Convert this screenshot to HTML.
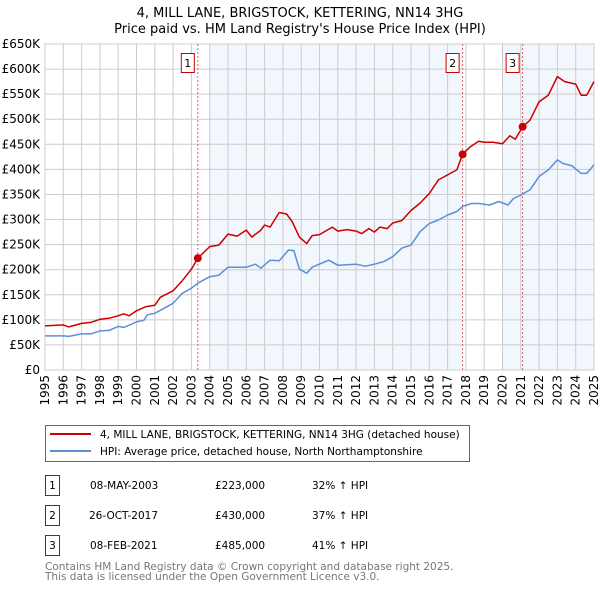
<!DOCTYPE html>
<html><head><meta charset="utf-8"><style>
body{margin:0;background:#fff;width:600px;height:590px;overflow:hidden;font-family:"DejaVu Sans","Liberation Sans",sans-serif}
svg text{font-family:"DejaVu Sans","Liberation Sans",sans-serif}
</style></head><body>
<svg id="chart" width="600" height="590" viewBox="0 0 600 590" xmlns="http://www.w3.org/2000/svg">
<text x="300" y="17" font-size="13" text-anchor="middle" fill="#000">4, MILL LANE, BRIGSTOCK, KETTERING, NN14 3HG</text>
<text x="300" y="33" font-size="13" text-anchor="middle" fill="#000">Price paid vs. HM Land Registry's House Price Index (HPI)</text>
<g id="plot"></g>
<g>
<rect x="45.5" y="425.5" width="424" height="36" fill="#fff" stroke="#666"/>
<line x1="50" y1="434" x2="91" y2="434" stroke="#cc0000" stroke-width="2"/>
<text x="100" y="438" font-size="10.5">4, MILL LANE, BRIGSTOCK, KETTERING, NN14 3HG (detached house)</text>
<line x1="50" y1="451" x2="91" y2="451" stroke="#5b8fd6" stroke-width="2"/>
<text x="100" y="455" font-size="10.5">HPI: Average price, detached house, North Northamptonshire</text>
</g>
<g font-size="10.5">
<rect x="45.5" y="475.5" width="14" height="20" fill="#fff" stroke="#cc0000"/><text x="52.5" y="489" text-anchor="middle">1</text>
<text x="90" y="489">08-MAY-2003</text><text x="215" y="489">£223,000</text><text x="312" y="489">32% ↑ HPI</text>
<rect x="45.5" y="505.5" width="14" height="20" fill="#fff" stroke="#cc0000"/><text x="52.5" y="519" text-anchor="middle">2</text>
<text x="89" y="519">26-OCT-2017</text><text x="215" y="519">£430,000</text><text x="312" y="519">37% ↑ HPI</text>
<rect x="45.5" y="535.5" width="14" height="20" fill="#fff" stroke="#cc0000"/><text x="52.5" y="549" text-anchor="middle">3</text>
<text x="90" y="549">08-FEB-2021</text><text x="215" y="549">£485,000</text><text x="312" y="549">41% ↑ HPI</text>
</g>
<text x="45" y="570" font-size="10.5" fill="#777">Contains HM Land Registry data © Crown copyright and database right 2025.</text>
<text x="45" y="580" font-size="10.5" fill="#777">This data is licensed under the Open Government Licence v3.0.</text>
</svg>
<script>
const hpiYears=[1995,1996,1996.3,1997,1997.5,1998,1998.5,1999,1999.3,1999.7,2000,2000.4,2000.6,2001,2001.5,2002,2002.5,2003,2003.35,2004,2004.5,2005,2006,2006.5,2006.8,2007.3,2007.8,2008,2008.3,2008.6,2008.9,2009.3,2009.6,2010.5,2011,2012,2012.5,2013,2013.5,2014,2014.5,2015,2015.5,2016,2016.5,2017,2017.5,2017.82,2018.3,2018.7,2019.3,2019.8,2020.3,2020.6,2021,2021.5,2022,2022.5,2023,2023.3,2023.8,2024.3,2024.6,2025];
const hpiValues=[68,68,67,72,72,78,79,87,85,91,96,99,110,113,123,133,153,163,173,186,189,205,205,211,203,219,218,226,239,238,201,193,205,219,209,211,207,211,216,226,243,249,276,292,299,309,316,326,332,332,329,336,329,342,349,359,386,399,419,412,407,392,392,409];
const priceYears=[1995,1996,1996.3,1997,1997.5,1998,1998.5,1999,1999.3,1999.6,2000,2000.5,2001,2001.3,2002,2002.5,2003,2003.35,2004,2004.5,2005,2005.5,2006,2006.3,2006.8,2007,2007.3,2007.8,2008.2,2008.5,2008.9,2009.3,2009.6,2010,2010.7,2011,2011.5,2012,2012.3,2012.7,2013,2013.3,2013.7,2014,2014.5,2015,2015.5,2016,2016.5,2017,2017.5,2017.82,2018.2,2018.7,2019,2019.5,2020,2020.4,2020.7,2021.1,2021.5,2022,2022.5,2023,2023.4,2024,2024.3,2024.6,2025];
const priceValues=[88,90,86,93,95,101,103,108,112,108,118,126,129,145,158,178,201,223,246,249,271,267,279,265,279,289,285,314,311,296,265,252,268,270,285,277,280,277,272,282,275,285,282,293,298,318,333,352,379,389,399,430,444,456,454,454,451,467,460,485,498,535,548,585,575,570,548,548,575];
const saleYears=[2003.35,2017.82,2021.1];
const saleValues=[223,430,485];
const saleLabels=["1","2","3"];
const yTicks=[0,50,100,150,200,250,300,350,400,450,500,550,600,650];
const xTicks=[1995,1996,1997,1998,1999,2000,2001,2002,2003,2004,2005,2006,2007,2008,2009,2010,2011,2012,2013,2014,2015,2016,2017,2018,2019,2020,2021,2022,2023,2024,2025];
const shadeRanges=[[2004,2017.82],[2020,2025]];

const X0=45,X1=594,Y0=370,Y1=44;
const xs=y=>X0+(y-1995)/30*(X1-X0);
const ys=v=>Y0-v/650*(Y0-Y1);
const NS="http://www.w3.org/2000/svg";
const g=document.getElementById('plot');
function mk(t,a){const e=document.createElementNS(NS,t);for(const k in a)e.setAttribute(k,a[k]);g.appendChild(e);return e;}
for(const r of shadeRanges){
 const e=mk('rect',{x:xs(r[0]),y:Y1,width:xs(r[1])-xs(r[0]),height:Y0-Y1,fill:'#eef3fc',opacity:0.75});
 
 
}
for(const v of yTicks){
 const l=mk('line',{x1:X0,x2:X1,y1:ys(v),y2:ys(v),stroke:'#cccccc','stroke-width':1});
 
 
 const t=mk('text',{x:40,y:ys(v)+4,'font-size':12,'text-anchor':'end',fill:'#000'});
 t.textContent=v===0?'£0':'£'+v+'K';
 
 
}
for(const y of xTicks){
 const l=mk('line',{x1:xs(y),x2:xs(y),y1:Y1,y2:Y0,stroke:'#cccccc','stroke-width':1});
 
 
 const t=mk('text',{x:0,y:0,'font-size':12,'text-anchor':'end',fill:'#000',transform:`translate(${xs(y)+4},${Y0+5}) rotate(-90)`});
 t.textContent=y;
 
 
}
const frame=mk('rect',{x:X0,y:Y1,width:X1-X0,height:Y0-Y1,fill:'none',stroke:'#cccccc'});


for(let i=0;i<saleYears.length;i++){
 const l=mk('line',{x1:xs(saleYears[i]),x2:xs(saleYears[i]),y1:Y1,y2:Y0,stroke:'#e06060','stroke-width':1,'stroke-dasharray':'2,2'});
 
 
 const b=mk('rect',{x:xs(saleYears[i])-16.5,y:53.5,width:13,height:19,fill:'#fff',stroke:'#cc0000'});
 
 
 const t=mk('text',{x:xs(saleYears[i])-10,y:67,'font-size':11,'text-anchor':'middle'});
 t.textContent=saleLabels[i];
 
 
}
function path(xa,va,c,n){
 const d=xa.map((x,i)=>(i?'L':'M')+xs(x).toFixed(1)+','+ys(va[i]).toFixed(1)).join('');
 const p=mk('path',{d,fill:'none',stroke:c,'stroke-width':1.5,'stroke-linejoin':'round'});
 
 
}
path(hpiYears,hpiValues,'#5b8fd6','hpi-line');
path(priceYears,priceValues,'#cc0000','property-price-line');
for(let i=0;i<saleYears.length;i++){
 const c=mk('circle',{cx:xs(saleYears[i]),cy:ys(saleValues[i]),r:4,fill:'#cc0000'});
 
 
}
</script>
</body></html>
